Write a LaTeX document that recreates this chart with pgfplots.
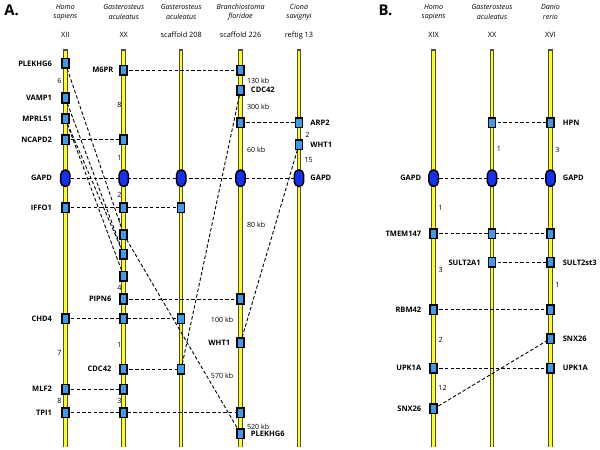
\documentclass[border=0pt]{standalone}
\usepackage{fontspec}
\setmainfont{Open Sans}
\usepackage{pgfplots}
\pgfplotsset{compat=1.18}
\definecolor{boxblue}{HTML}{3A9BEF}
\definecolor{gapdblue}{HTML}{1530F0}
\definecolor{chrom}{HTML}{FFFF10}
\definecolor{txt}{HTML}{222222}
\pgfdeclareplotmark{gbox}{%
 \pgfpathrectangle{\pgfpoint{-3.5bp}{-4.8bp}}{\pgfpoint{7bp}{9.6bp}}\pgfusepathqfillstroke}
\pgfdeclareplotmark{gapd}{%
 \pgfpathmoveto{\pgfpoint{-4.7bp}{-3.6bp}}%
 \pgfpathlineto{\pgfpoint{-4.7bp}{3.6bp}}%
 \pgfpatharc{180}{0}{4.7bp}%
 \pgfpathlineto{\pgfpoint{4.7bp}{-3.6bp}}%
 \pgfpatharc{0}{-180}{4.7bp}%
 \pgfpathclose\pgfusepathqfillstroke}
\newcommand\gl{\fontsize{7.6bp}{9bp}\selectfont\bfseries}
\newcommand\nm{\fontsize{7.2bp}{8bp}\selectfont}
\newcommand\hd{\fontsize{7.2bp}{9bp}\selectfont\itshape}
\newcommand\ch{\fontsize{7.4bp}{9bp}\selectfont}
\tikzset{L/.style={anchor=east,font=\gl},R/.style={anchor=west,font=\gl},
  N/.style={font=\nm},NL/.style={anchor=west,font=\nm},NR/.style={anchor=east,font=\nm}}
\pgfplotsset{dl/.style={black,line width=0.9bp,dash pattern=on 3.5bp off 2.2bp,no marks}}
\begin{document}
\begin{tikzpicture}
\begin{axis}[width=600bp,height=452bp,scale only axis,
  xmin=0,xmax=600,ymin=0,ymax=452,y dir=reverse,hide axis,clip=false,
  every node/.append style={text=txt,inner sep=0pt}]
\path (axis cs:0,0) -- (axis cs:600,452);
% chromosomes
\pgfplotsinvokeforeach{66,125,183,243,302,438,497,556}{
  \addplot[black!70,line width=4.6bp,no marks] coordinates {(#1,50) (#1,452)};
  \addplot[chrom,line width=2.6bp,no marks] coordinates {(#1,51.2) (#1,452)};
}
% dashed connections, panel A
\addplot[dl] coordinates {(125,71) (243,71)};
\addplot[dl] coordinates {(66,141) (125,141)};
\addplot[dl] coordinates {(66,180) (302,180)};
\addplot[dl] coordinates {(66,210) (183,210)};
\addplot[dl] coordinates {(125,302) (243,302)};
\addplot[dl] coordinates {(66,322) (183,322)};
\addplot[dl] coordinates {(125,373) (183,373)};
\addplot[dl] coordinates {(183,373) (243,91)};
\addplot[dl] coordinates {(66,393) (125,393)};
\addplot[dl] coordinates {(66,417) (243,417)};
\addplot[dl] coordinates {(243,124) (302,124)};
\addplot[dl] coordinates {(302,146) (243,346)};
\addplot[dl] coordinates {(66,64) (125,237)};
\addplot[dl] coordinates {(125,237) (243,438)};
\addplot[dl] coordinates {(66,99) (125,257)};
\addplot[dl] coordinates {(66,120) (125,279)};
\addplot[dl] coordinates {(66,120) (125,257)};
% panel B
\addplot[dl] coordinates {(497,124) (556,124)};
\addplot[dl] coordinates {(438,180) (556,180)};
\addplot[dl] coordinates {(438,236) (556,236)};
\addplot[dl] coordinates {(497,265) (556,265)};
\addplot[dl] coordinates {(438,313) (556,313)};
\addplot[dl] coordinates {(438,372) (556,372)};
\addplot[dl] coordinates {(438,413) (556,342)};
% gene boxes
\addplot[only marks,mark=gbox,mark options={fill=boxblue,draw=black,line width=1.6bp}] coordinates {
 (66,64) (66,99) (66,120) (66,141) (66,210) (66,322) (66,393) (66,417)
 (125,71) (125,141) (125,210) (125,237) (125,257) (125,279) (125,302) (125,322) (125,373) (125,393) (125,417)
 (183,210) (183,322) (183,373)
 (243,71) (243,91) (243,124) (243,302) (243,346) (243,417) (243,438)
 (302,124) (302,146)
 (438,236) (438,313) (438,372) (438,413)
 (497,124) (497,236) (497,265)
 (556,124) (556,236) (556,265) (556,313) (556,342) (556,372)};
\addplot[only marks,mark=gapd,mark options={fill=gapdblue,draw=black,line width=1.5bp}] coordinates {
 (66,180) (125,180) (183,180) (243,180) (302,180) (438,180) (497,180) (556,180)};
% panel letters
\node[anchor=west,font=\fontsize{15bp}{16bp}\selectfont\bfseries] at (axis cs:1,10) {A.};
\node[anchor=west,font=\fontsize{15bp}{16bp}\selectfont\bfseries] at (axis cs:379,10) {B.};
% headers
\node[font=\hd] at (axis cs:66,7) {Homo};
\node[font=\hd] at (axis cs:66,17) {sapiens};
\node[font=\ch] at (axis cs:66,35.5) {XII};
\node[font=\hd] at (axis cs:125,7) {Gasterosteus};
\node[font=\hd] at (axis cs:125,17) {aculeatus};
\node[font=\ch] at (axis cs:125,35.5) {XX};
\node[font=\hd] at (axis cs:183,7) {Gasterosteus};
\node[font=\hd] at (axis cs:183,17) {aculeatus};
\node[font=\ch] at (axis cs:183,35.5) {scaffold 208};
\node[font=\hd] at (axis cs:243,7) {Branchiostoma};
\node[font=\hd] at (axis cs:243,17) {floridae};
\node[font=\ch] at (axis cs:243,35.5) {scaffold 226};
\node[font=\hd] at (axis cs:302,7) {Ciona};
\node[font=\hd] at (axis cs:302,17) {savignyi};
\node[font=\ch] at (axis cs:302,35.5) {reftig 13};
\node[font=\hd] at (axis cs:438,7) {Homo};
\node[font=\hd] at (axis cs:438,17) {sapiens};
\node[font=\ch] at (axis cs:438,35.5) {XIX};
\node[font=\hd] at (axis cs:497,7) {Gasterosteus};
\node[font=\hd] at (axis cs:497,17) {aculeatus};
\node[font=\ch] at (axis cs:497,35.5) {XX};
\node[font=\hd] at (axis cs:556,7) {Danio};
\node[font=\hd] at (axis cs:556,17) {rerio};
\node[font=\ch] at (axis cs:556,35.5) {XVI};
% gene labels panel A
\node[L] at (axis cs:56,64) {PLEKHG6};
\node[L] at (axis cs:56,99) {VAMP1};
\node[L] at (axis cs:56,120) {MPRL51};
\node[L] at (axis cs:56,141) {NCAPD2};
\node[L] at (axis cs:56,180) {GAPD};
\node[L] at (axis cs:56,210) {IFFO1};
\node[L] at (axis cs:56,322) {CHD4};
\node[L] at (axis cs:56,393) {MLF2};
\node[L] at (axis cs:56,417) {TPI1};
\node[L] at (axis cs:118,71) {M6PR};
\node[L] at (axis cs:116,302) {PIPN6};
\node[L] at (axis cs:116,373) {CDC42};
\node[R] at (axis cs:250,91) {CDC42};
\node[L] at (axis cs:236,346) {WHT1};
\node[R] at (axis cs:250,438) {PLEKHG6};
\node[R] at (axis cs:310,124) {ARP2};
\node[R] at (axis cs:310,146) {WHT1};
\node[R] at (axis cs:310,180) {GAPD};
% distances panel A
\node[N] at (axis cs:60,82) {6};
\node[N] at (axis cs:60,357) {7};
\node[N] at (axis cs:60,405) {8};
\node[N] at (axis cs:120.5,106) {8};
\node[N] at (axis cs:120.5,160) {1};
\node[N] at (axis cs:120.5,197) {2};
\node[N] at (axis cs:120.5,223) {1};
\node[N] at (axis cs:120.5,291) {4};
\node[N] at (axis cs:120.5,348) {1};
\node[N] at (axis cs:120.5,405) {3};
\node[NL] at (axis cs:246,82) {130 kb};
\node[NL] at (axis cs:246,108) {300 kb};
\node[NL] at (axis cs:246,151) {60 kb};
\node[NL] at (axis cs:246,227) {80 kb};
\node[NR] at (axis cs:239,323) {100 kb};
\node[NR] at (axis cs:239,380) {570 kb};
\node[NL] at (axis cs:246,431) {520 kb};
\node[NL] at (axis cs:305,136) {2};
\node[NL] at (axis cs:304,162) {15};
% panel B labels
\node[L] at (axis cs:429,180) {GAPD};
\node[L] at (axis cs:429,236) {TMEM147};
\node[L] at (axis cs:429,313) {RBM42};
\node[L] at (axis cs:429,372) {UPK1A};
\node[L] at (axis cs:429,413) {SNX26};
\node[L] at (axis cs:489,265) {SULT2A1};
\node[R] at (axis cs:565,124) {HPN};
\node[R] at (axis cs:565,180) {GAPD};
\node[R] at (axis cs:565,265) {SULT2st3};
\node[R] at (axis cs:565,342) {SNX26};
\node[R] at (axis cs:565,372) {UPK1A};
\node[N] at (axis cs:504,150) {1};
\node[N] at (axis cs:563,151) {3};
\node[N] at (axis cs:445,210) {1};
\node[N] at (axis cs:445,273) {3};
\node[N] at (axis cs:563,288) {1};
\node[N] at (axis cs:445,343) {2};
\node[N] at (axis cs:447,392) {12};
\end{axis}
\end{tikzpicture}
\end{document}
